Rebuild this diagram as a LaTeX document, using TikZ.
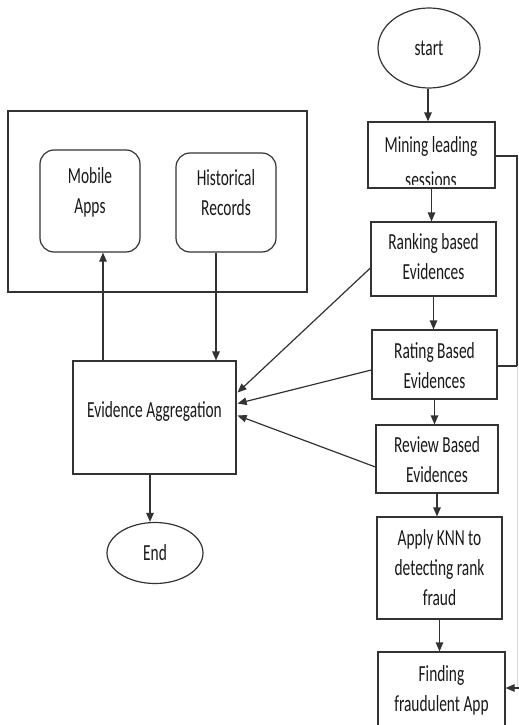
\documentclass[tikz,border=0pt]{standalone}
\usepackage{fontspec}
\setmainfont{Carlito}[FakeStretch=0.67]
\usetikzlibrary{arrows.meta,calc,shapes.geometric}
\tikzset{
  ln/.style={draw=black!80, line width=1.2pt},
  box/.style={ln, rectangle, inner sep=0pt},
  rbox/.style={box, rounded corners=14pt},
  oval/.style={ln, ellipse, inner sep=0pt},
  txt/.style={align=center, text=black!90, inner sep=0pt,
              font=\fontsize{23}{30}\selectfont},
  arr/.style={ln, -{Triangle[length=9pt,width=7.5pt]}},
}
\begin{document}
\begin{tikzpicture}[x=1pt, y=-1pt]
\useasboundingbox (0,0) rectangle (519,725);

% right-hand flow
\node[oval, minimum width=102pt, minimum height=80pt] (start) at (429,48) {};
\node[txt] (t-start) at (429,48) {start};

\node[box, minimum width=127pt, minimum height=66pt] (mining) at (431.5,155) {};
\begin{scope}
  \clip (368,122) rectangle (495,184.5);
  \node[txt, anchor=base] (t-mining1) at (431,152) {Mining leading};
  \node[txt, anchor=base] (t-mining2) at (431,187) {sessions};
\end{scope}

\node[box, minimum width=125pt, minimum height=74pt] (ranking) at (433.5,259) {};
\node[txt] (t-ranking) at (433.5,257) {Ranking based\\Evidences};

\node[box, minimum width=125pt, minimum height=69pt] (rating) at (434.5,364.5) {};
\node[txt] (t-rating) at (434.5,365.5) {Rating Based\\Evidences};

\node[box, minimum width=122pt, minimum height=68pt] (review) at (437,459) {};
\node[txt] (t-review) at (437,460) {Review Based\\Evidences};

\node[box, minimum width=125pt, minimum height=102pt] (apply) at (439.5,568) {};
\node[txt] (t-apply) at (439.5,568) {Apply KNN to\\detecting rank\\fraud};

\node[box, minimum width=127pt, minimum height=76pt] (finding) at (441.5,690) {};
\node[txt] (t-finding) at (441.5,690) {Finding\\fraudulent App};

% data sources
\node[box, minimum width=299pt, minimum height=181pt] (sources) at (157.5,201.5) {};
\node[rbox, minimum width=100pt, minimum height=102pt] (mobile) at (90,201) {};
\node[txt] (t-mobile) at (90,192) {Mobile\\Apps};
\node[rbox, minimum width=100pt, minimum height=99pt] (hist) at (226,202.5) {};
\node[txt] (t-hist) at (226,193) {Historical\\Records};

\node[box, minimum width=163pt, minimum height=113pt] (evagg) at (154.5,417.5) {};
\node[txt] (t-evagg) at (154.5,411.5) {Evidence Aggregation};

\node[oval, minimum width=96pt, minimum height=61pt] (end) at (155,553) {};
\node[txt] (t-end) at (155,552.5) {End};

% main chain
\draw[arr] (start.south -| 428,0) -- (mining.north -| 428,0);
\draw[arr] (mining.south) -- (mining.south |- ranking.north);
\draw[arr] (ranking.south) -- (ranking.south |- rating.north);
\draw[arr] (rating.south) -- (rating.south |- review.north);
\draw[arr] (review.south) -- (review.south |- apply.north);
\draw[arr] (apply.south) -- (apply.south |- finding.north);

% evidences into aggregation
\draw[arr] ($(ranking.west)+(0,9)$) -- ($(evagg.east)+(1,-25)$);
\draw[arr] ($(rating.west)+(0,5.5)$) -- ($(evagg.east)+(1,-14)$);
\draw[arr] ($(review.west)+(0,8)$) -- ($(evagg.east)+(1,-2)$);

% aggregation links
\draw[arr] ($(evagg.north)+(-51.5,0)$) -- ($(mobile.south)+(13,0)$);
\draw[arr] ($(hist.south)+(-10,0)$) -- ($(evagg.north)+(61.5,0)$);
\draw[arr] (evagg.south -| 150,0) -- (end.north -| 150,0);

% feedback line on the right
\coordinate (fb-top) at (517,156);
\coordinate (fb-mid) at (517,366);
\coordinate (fb-bot) at (517,688);
\draw[ln] ($(mining.east)+(0,1)$) -- (fb-top) -- (fb-mid) -- (fb-mid -| rating.east);
\draw[draw=black!15, line width=1pt] (fb-mid) -- (fb-bot);
\draw[arr] (519,688) -- (finding.east |- fb-bot);
\end{tikzpicture}
\end{document}
